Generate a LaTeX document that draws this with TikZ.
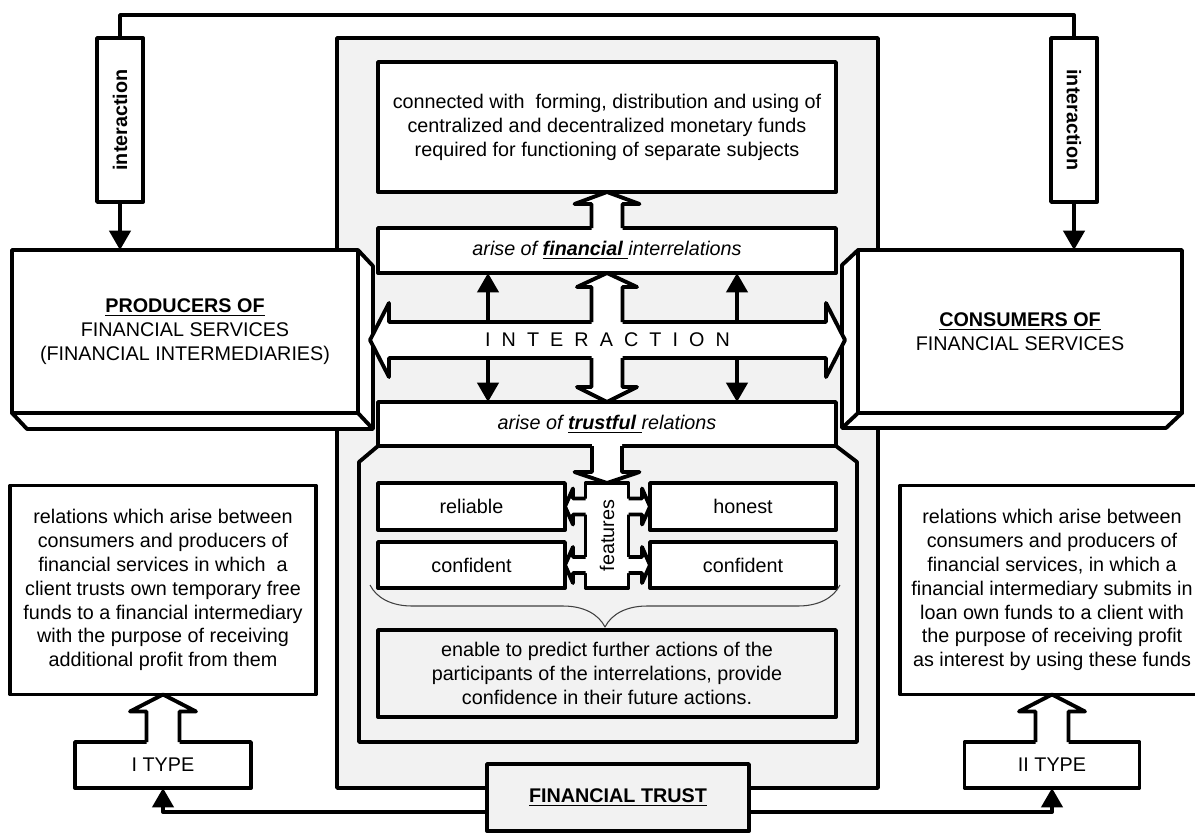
\documentclass[tikz,border=0pt]{standalone}
\usepackage{graphicx}
\usepackage{fontspec}
\setmainfont{Liberation Sans}
\usetikzlibrary{arrows.meta,calc,decorations.pathreplacing}
\definecolor{panelgrey}{HTML}{F2F2F2}
\newcommand{\lgap}{\hspace{6.3pt}}
% hollow block arrow: from, to, shaft half width, head half width, head length
\newcommand{\blockarrow}[5]{%
  \coordinate (ba-s) at (#1);
  \coordinate (ba-t) at (#2);
  \coordinate (ba-h) at ($(ba-t)!#5!(ba-s)$);
  \coordinate (ba-b) at ($(ba-s)!-1.2pt!(ba-t)$);
  \fill[white] ($(ba-b)!#3!90:(ba-t)$) -- ($(ba-h)!#3!90:(ba-t)$) -- ($(ba-h)!#4!90:(ba-t)$) -- (ba-t)
    -- ($(ba-h)!#4!-90:(ba-t)$) -- ($(ba-h)!#3!-90:(ba-t)$) -- ($(ba-b)!#3!-90:(ba-t)$) -- cycle;
  \draw ($(ba-s)!#3!90:(ba-t)$) -- ($(ba-h)!#3!90:(ba-t)$) -- ($(ba-h)!#4!90:(ba-t)$) -- (ba-t)
    -- ($(ba-h)!#4!-90:(ba-t)$) -- ($(ba-h)!#3!-90:(ba-t)$) -- ($(ba-s)!#3!-90:(ba-t)$);
}
\begin{document}
\begin{tikzpicture}[x=0.02cm, y=-0.02cm, line width=2.2pt, line join=round,
  font=\fontsize{11.25}{13.6}\selectfont,
  box/.style={rectangle, draw, fill=#1, outer sep=0pt, align=center},
  box/.default=white,
  arr/.style={-{Triangle[width=12pt,length=11pt]}},
  brace/.style={line width=0.6pt, draw=black!75, decorate, decoration={brace, mirror, amplitude=0.84cm}}
]
  \useasboundingbox (0,0) rectangle (1195,833);
  \clip (0,0) rectangle (1195,833);
  % Central panel
  \node[box=panelgrey, minimum width=10.82cm, minimum height=15cm] (panel) at (607.5,413) {};
  % Interaction boxes on top
  \node[box, minimum width=0.92cm, minimum height=3.28cm] (intL) at (120,120) {\rotatebox{90}{\textbf{interaction}}};
  \node[box, minimum width=0.92cm, minimum height=3.28cm] (intR) at (1074,120) {\rotatebox{-90}{\textbf{interaction}}};
  \coordinate (topline) at (0,15);
  \draw (intL.north) -- (intL.north |- topline) -- (intR.north |- topline) -- (intR.north);
  % Upper boxes
  \node[box, minimum width=9.16cm, minimum height=2.6cm] (topbox) at (607,127) {connected with~ forming, distribution and using of\\centralized and decentralized monetary funds\\required for functioning of separate subjects};
  \node[box, minimum width=9.16cm, minimum height=0.9cm] (finbox) at (607,250.5) {\textit{arise of \underline{\textbf{financial }}interrelations}};
  % Inner panel
  \filldraw[fill=panelgrey] (359,462) -- (378,446) -- (836,446) -- (857,462) -- (857,742) -- (359,742) -- cycle;
  \node[box, minimum width=9.16cm, minimum height=0.88cm] (trustbox) at (607,424) {\textit{arise of \underline{\textbf{trustful }}relations}};
  % Producers and consumers
  \node[box, minimum width=6.92cm, minimum height=3.26cm] (prodF) at (185,331.5) {\underline{\textbf{PRODUCERS OF}}\\FINANCIAL SERVICES\\(FINANCIAL INTERMEDIARIES)};
  \filldraw[fill=white] (prodF.north east) -- ++(15,16) -- ($(prodF.south east)+(15,16)$) -- ($(prodF.south west)+(15,16)$) -- (prodF.south west) -- (prodF.south east) -- cycle;
  \draw (prodF.south east) -- ++(15,16);
  \node[box, minimum width=6.48cm, minimum height=3.26cm] (consF) at (1020,331.5) {\underline{\textbf{CONSUMERS OF}}\\FINANCIAL SERVICES};
  \filldraw[fill=white] (consF.north west) -- ++(-16,15) -- ($(consF.south west)+(-16,15)$) -- ($(consF.south east)+(-16,15)$) -- (consF.south east) -- (consF.south west) -- cycle;
  \draw (consF.south west) -- ++(-16,15);
  \draw[arr] (intL.south) -- (intL.south |- prodF.north);
  \draw[arr] (intR.south) -- (intR.south |- consF.north);
  % INTERACTION double arrow
  \coordinate (iaL) at (370,340);
  \coordinate (iaR) at (845,340);
  \filldraw[fill=white] (iaL) -- ++(19,-37) -- ++(0,19) -- ($(iaR)+(-19,-18)$) -- ++(0,-19) -- (iaR) -- ++(-19,37) -- ++(0,-19) -- ($(iaL)+(19,18)$) -- ++(0,19) -- cycle;
  \node (interact) at ($(iaL)!0.5!(iaR)$) {I\lgap N\lgap T\lgap E\lgap R\lgap A\lgap C\lgap T\lgap I\lgap O\lgap N};
  \coordinate (iaT) at (607,322);
  \coordinate (iaB) at (607,358);
  \draw[arr] ($(iaT)+(-119,0)$) -- ($(finbox.south)+(-119,0)$);
  \draw[arr] ($(iaT)+(130,0)$) -- ($(finbox.south)+(130,0)$);
  \draw[arr] ($(iaB)+(-119,0)$) -- ($(trustbox.north)+(-119,0)$);
  \draw[arr] ($(iaB)+(130,0)$) -- ($(trustbox.north)+(130,0)$);
  \blockarrow{finbox.north}{topbox.south}{0.31cm}{0.65cm}{0.24cm}
  \blockarrow{iaT}{finbox.south}{0.31cm}{0.6cm}{0.28cm}
  \blockarrow{iaB}{trustbox.north}{0.31cm}{0.6cm}{0.3cm}
  % Features
  \node[box, minimum width=3.74cm, minimum height=0.94cm] (reliable) at (471.5,506.5) {reliable};
  \node[box, minimum width=3.72cm, minimum height=0.94cm] (honest) at (743,506.5) {honest};
  \node[box, minimum width=3.74cm, minimum height=0.92cm] (confL) at (471.5,565) {confident};
  \node[box, minimum width=3.72cm, minimum height=0.92cm] (confR) at (743,565) {confident};
  \node[box, minimum width=0.86cm, minimum height=2.1cm] (feat) at (607,535.5) {\rotatebox{90}{features}};
  \blockarrow{trustbox.south}{feat.north}{0.3cm}{0.65cm}{0.22cm}
  \blockarrow{feat.west |- reliable.east}{reliable.east}{0.16cm}{0.36cm}{0.16cm}
  \blockarrow{feat.west |- confL.east}{confL.east}{0.16cm}{0.36cm}{0.16cm}
  \blockarrow{feat.east |- honest.west}{honest.west}{0.16cm}{0.36cm}{0.16cm}
  \blockarrow{feat.east |- confR.west}{confR.west}{0.16cm}{0.36cm}{0.16cm}
  \draw[brace] ($(confL.south west)+(-8,-3)$) -- ($(confR.south east)+(4,-3)$);
  \node[box=panelgrey, minimum width=9.16cm, minimum height=1.74cm] (enable) at (607,673.5) {enable to predict further actions of the\\participants of the interrelations, provide\\confidence in their future actions.};
  % Financial trust
  \node[box=panelgrey, minimum width=5.24cm, minimum height=1.34cm] (trust) at (618,797.5) {\underline{\textbf{FINANCIAL TRUST}}};
  % Types of relations
  \node[box, minimum width=6.12cm, minimum height=4.18cm] (descL) at (163,590) {relations which arise between\\consumers and producers of\\financial services in which~ a\\client trusts own temporary free\\funds to a financial intermediary\\with the purpose of receiving\\additional profit from them};
  \node[box, minimum width=6.08cm, minimum height=4.18cm] (descR) at (1052,590) {relations which arise between\\consumers and producers of\\financial services, in which a\\financial intermediary submits in\\loan own funds to a client with\\the purpose of receiving profit\\as interest by using these funds};
  \node[box, minimum width=3.52cm, minimum height=0.92cm] (typeL) at (163,765) {I TYPE};
  \node[box, minimum width=3.5cm, minimum height=0.92cm] (typeR) at (1052,765) {II TYPE};
  \blockarrow{typeL.north}{descL.south}{0.33cm}{0.66cm}{0.34cm}
  \blockarrow{typeR.north}{descR.south}{0.33cm}{0.66cm}{0.34cm}
  \coordinate (botline) at (0,812);
  \draw[arr] (trust.west |- botline) -| (typeL.south);
  \draw[arr] (trust.east |- botline) -| (typeR.south);
\end{tikzpicture}
\end{document}
